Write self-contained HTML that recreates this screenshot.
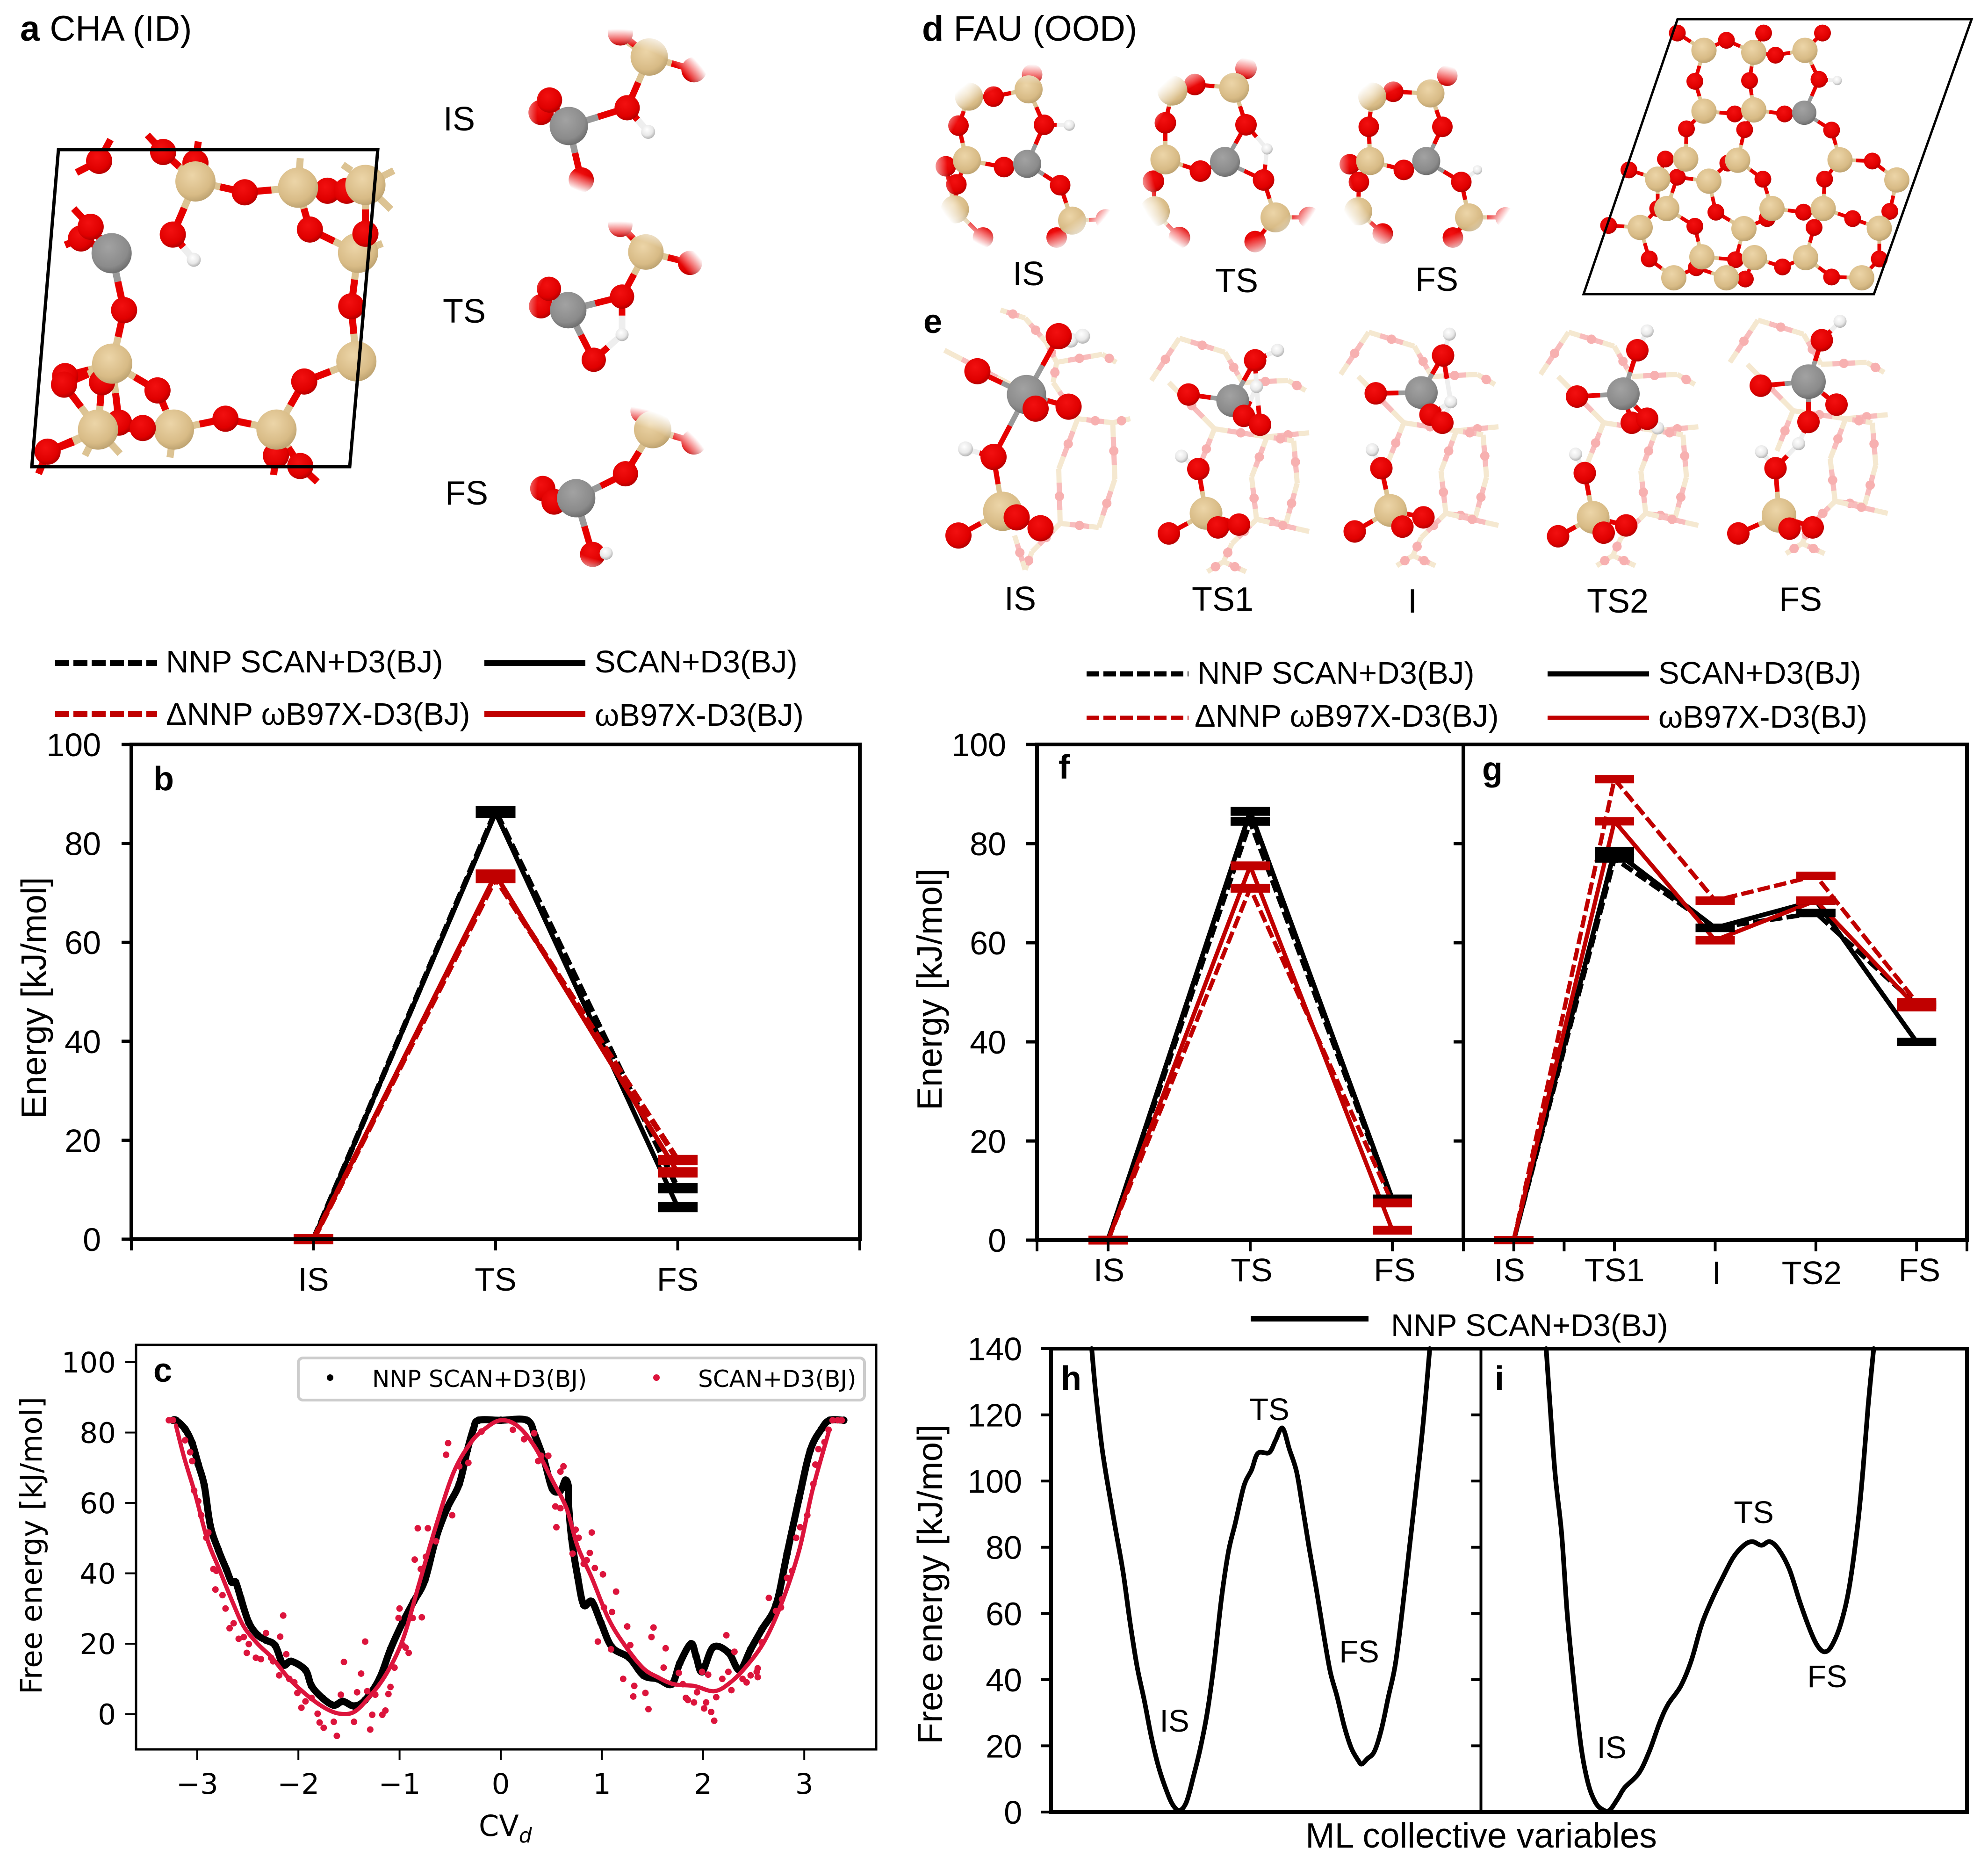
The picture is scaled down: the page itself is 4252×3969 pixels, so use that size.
<!DOCTYPE html>
<html lang="en">
<head>
<meta charset="utf-8">
<title>Zeolite reaction energy profiles</title>
<style>
html,body{margin:0;padding:0;background:#fff;}
#figure{display:block;width:4252px;height:3969px;background:#fff;}
text{font-family:"Liberation Sans",sans-serif;fill:#000;}
.dv{font-family:"DejaVu Sans",sans-serif;}
</style>
</head>
<body>
<svg id="figure" xmlns="http://www.w3.org/2000/svg" width="4252" height="3969" viewBox="0 0 4252 3969">
<defs>
<radialGradient id="g-Si" cx="42%" cy="35%" r="70%"><stop offset="0" stop-color="#ecd5a8"/><stop offset=".7" stop-color="#d8bb86"/><stop offset="1" stop-color="#b79d6c"/></radialGradient>
<radialGradient id="g-O" cx="42%" cy="35%" r="70%"><stop offset="0" stop-color="#f21010"/><stop offset=".7" stop-color="#e00000"/><stop offset="1" stop-color="#a80000"/></radialGradient>
<radialGradient id="g-Al" cx="42%" cy="35%" r="70%"><stop offset="0" stop-color="#a2a2a2"/><stop offset=".7" stop-color="#8b8b8b"/><stop offset="1" stop-color="#666"/></radialGradient>
<radialGradient id="g-H" cx="42%" cy="35%" r="70%"><stop offset="0" stop-color="#fff"/><stop offset=".6" stop-color="#e8e8e8"/><stop offset="1" stop-color="#a8a8a8"/></radialGradient>
<radialGradient id="g-fade"><stop offset="0" stop-color="#fff"/><stop offset=".8" stop-color="#fff"/><stop offset="1" stop-color="#000"/></radialGradient>
</defs>
</svg>
<script>
/* ---------- chart data ---------- */
const bCategories=['IS','TS','FS'];
const bNnpScan=[0,86.5,10.3];
const bScan=[0,86.2,6.5];
const bDeltaNnp=[0,73,16];
const bWb97x=[0,73.7,13.5];

const fCategories=['IS','TS','FS'];
const fNnpScan=[0,84.5,8];
const fScan=[0,86.5,8.3];
const fDeltaNnp=[0,71,7.5];
const fWb97x=[0,75.5,2];

const gCategories=['IS','TS1','I','TS2','FS'];
const gNnpScan=[0,77,63,66,47.5];
const gScan=[0,78.5,63,68.5,40];
const gDeltaNnp=[0,93,68.5,73.5,48];
const gWb97x=[0,84.5,60.5,68.5,47];

const energyTicks=[0,20,40,60,80,100];
const cvTicks=[-3,-2,-1,0,1,2,3];
const cYTicks=[0,20,40,60,80,100];
const hiTicks=[0,20,40,60,80,100,120,140];

const nnpPoints=[[-3.24,83.5],[-3.21,83.5],[-3.12,81],[-3.05,77],[-2.99,71],[-2.93,65],[-2.87,53.5],[-2.79,46.6],[-2.71,41],[-2.66,37.5],[-2.62,37.5],[-2.57,33],[-2.49,26],[-2.40,22.4],[-2.32,21],[-2.23,19.5],[-2.15,14],[-2.07,15],[-1.93,12.5],[-1.87,8],[-1.76,4.5],[-1.65,2.5],[-1.56,3.6],[-1.45,2.3],[-1.34,4],[-1.2,10],[-1.09,18.4],[-0.97,26],[-0.86,32],[-0.75,38],[-0.64,50],[-0.53,58.5],[-0.41,65.4],[-0.33,75],[-0.27,81],[-0.22,83.5],[0,83.5],[0.26,83.5],[0.34,79],[0.43,72],[0.51,64],[0.59,63.5],[0.64,66.5],[0.67,64.5],[0.67,60],[0.7,50],[0.76,39],[0.82,31],[0.9,32],[0.99,26],[1.1,19],[1.27,16],[1.41,11],[1.55,10],[1.69,8.5],[1.77,14.5],[1.88,20],[1.93,16.5],[1.99,12],[2.1,19],[2.25,17.5],[2.36,12.5],[2.47,18.4],[2.58,24],[2.72,31],[2.83,45.6],[2.95,61.5],[3.06,75],[3.17,81],[3.25,83.5],[3.39,83.5]];

const scanFit=[[-3.21,82],[-3.13,73],[-3.02,62.5],[-2.9,49.6],[-2.79,41.7],[-2.65,31.8],[-2.54,24.9],[-2.4,19.9],[-2.26,16],[-2.09,10],[-1.9,5],[-1.73,1.6],[-1.59,0.1],[-1.45,0.6],[-1.31,4.5],[-1.14,11],[-0.97,21],[-0.81,36.7],[-0.64,53.5],[-0.47,68.4],[-0.3,77],[-0.16,81],[0,83.5],[0.17,81.8],[0.34,75.8],[0.51,66.4],[0.65,58.5],[0.76,47.6],[0.9,38.7],[1.07,26.8],[1.24,19],[1.41,13],[1.55,10.5],[1.71,8.5],[1.91,8],[2.11,6.5],[2.27,9],[2.44,14],[2.61,20.9],[2.78,31.8],[2.95,46.6],[3.08,63.5],[3.24,80]];

const scanPoints=[[-3.28,83.5],[-3.24,83.5],[-3.12,77.8],[-3.07,74.4],[-3.05,71.9],[-3.03,63.5],[-2.99,60.5],[-2.96,56.5],[-2.91,50.1],[-2.89,51.6],[-2.84,41.2],[-2.81,40.7],[-2.82,35.4],[-2.75,33.8],[-2.72,30],[-2.68,24.4],[-2.64,25.8],[-2.59,21.4],[-2.54,21.9],[-2.51,17.4],[-2.49,19.9],[-2.42,16],[-2.37,15.6],[-2.32,23],[-2.27,16],[-2.18,22],[-2.15,28],[-2.25,15],[-2.19,11],[-2.12,17],[-2.09,10],[-2.04,9],[-2.01,6],[-1.97,1.8],[-1.93,3.6],[-1.87,4.6],[-1.81,0.1],[-1.79,-2.4],[-1.75,-3.9],[-1.65,-2.2],[-1.62,-6.2],[-1.58,5.5],[-1.55,14.8],[-1.45,-2.2],[-1.42,6.2],[-1.38,11.5],[-1.34,20.6],[-1.32,6.5],[-1.29,-4.4],[-1.27,-0.2],[-1.24,5.5],[-1.17,-0.2],[-1.14,1],[-1.11,5.7],[-1.09,7.7],[-1.05,13.2],[-1.01,27.3],[-1,30],[-0.97,19.6],[-0.94,18.9],[-0.91,17.4],[-0.87,27.3],[-0.78,27.5],[-0.85,43.9],[-0.82,52.8],[-0.72,52.8],[-0.79,41.2],[-0.74,44.7],[-0.64,49.1],[-0.54,73.7],[-0.52,77],[-0.48,56.5],[-0.41,70.4],[-0.32,71.4],[-0.19,80.3],[0.12,80.8],[0.23,78.1],[0.33,79.8],[0.4,73.4],[0.47,73.4],[0.37,71.9],[0.62,70.4],[0.59,68.9],[0.54,59],[0.59,58.5],[0.55,53.1],[0.74,52.4],[0.77,50.1],[0.71,45.6],[0.82,42.7],[0.85,43.7],[0.9,51.6],[0.88,45.8],[0.93,41.5],[1.01,39.7],[1.14,34.8],[1.02,30.3],[1.1,29],[0.96,20.6],[1.25,24.9],[1.09,18.4],[1.28,19.6],[1.21,10],[1.32,8],[1.31,5],[1.43,6],[1.46,1.4],[1.49,21.9],[1.51,24.6],[1.63,18.7],[1.61,13.2],[1.76,11.7],[1.8,8.5],[1.83,4.6],[1.85,4],[1.91,3.3],[1.94,6.2],[1.99,12],[2.03,3.3],[2.01,1.6],[2.08,0.6],[2.11,-1.9],[2.05,11.2],[2.13,4.8],[2.19,10],[2.23,22.4],[2.25,12],[2.28,6.8],[2.31,17.7],[2.39,10],[2.43,9],[2.47,11],[2.53,12],[2.54,13],[2.54,10.5],[2.58,20.4],[2.65,33],[2.72,29.3],[2.78,32.6],[2.77,30.3],[2.83,38.7],[2.88,40.7],[2.92,50.1],[2.96,53.1],[3.03,56.5],[3.09,65.4],[3.11,70.9],[3.14,75.3],[3.2,77.3],[3.24,80.8],[3.28,83.5],[3.33,83.5],[3.37,83.5]];

const hCv=[0.58,0.64,0.73,0.83,0.93,1.03,1.13,1.23,1.33,1.43,1.53,1.63,1.73,1.83,1.93,2.03,2.13,2.23,2.33,2.43,2.53,2.63,2.75,2.86,2.95,3.11,3.2,3.3,3.4,3.5,3.58,3.68,3.78,3.88,3.98,4.08,4.18,4.28,4.38,4.43,4.51,4.61,4.71,4.81,4.91,5.01,5.11,5.21,5.31,5.4];
const hFree=[140,126,109.5,96.3,84.2,72.1,56.8,43.6,33.7,22.7,13.9,7.4,2.4,0.5,3,10.7,19.4,30.4,45.8,64.5,78.7,87.5,98.5,103.4,108.4,108.6,112.2,116,109.5,102.9,93,79.8,67.7,54.6,42.5,34.8,26,19.4,15.6,14.5,16.1,18.3,24.9,34.8,44.7,61.2,79.8,98.5,118.3,140];
const iCv=[0.93,1.05,1.15,1.23,1.33,1.43,1.53,1.63,1.73,1.83,1.95,2.05,2.25,2.4,2.55,2.67,2.85,3,3.15,3.3,3.45,3.6,3.75,3.87,4,4.12,4.25,4.4,4.55,4.7,4.8,4.9,5,5.13,5.25,5.37,5.45,5.52,5.6];
const iFree=[140,104,84.2,60,38.1,19.4,8.5,3,0.8,0.5,4,7.4,11.7,18.3,27.1,32.6,38.1,45.8,56.8,64.5,71,77,80.6,81.7,80.6,81.7,79.2,73.2,63.3,54.6,50.2,48.4,50.2,56.8,67.7,86.4,104,122.6,140];

/* ---------- helpers ---------- */
const NS='http://www.w3.org/2000/svg';
const root=document.getElementById('figure');
function mk(tag,attrs,name,parent,active){
  const el=document.createElementNS(NS,tag);
  for(const k in attrs){el.setAttribute(k,attrs[k]);}
  
  
  (parent||root).appendChild(el);
  return el;
}
function group(name,parent){return mk('g',{},name,parent);}
function txt(s,x,y,size,name,opt,parent){
  opt=opt||{};
  const a={x:x,y:y,'font-size':size};
  if(opt.anchor)a['text-anchor']=opt.anchor;
  if(opt.bold)a['font-weight']='bold';
  if(opt.dv)a['class']='dv';
  if(opt.rotate)a['transform']='rotate(-90 '+x+' '+y+')';
  const el=mk('text',a,name,parent);
  el.textContent=s;
  return el;
}
function linear(d0,d1,r0,r1){return v=>r0+(v-d0)*(r1-r0)/(d1-d0);}
function line(x1,y1,x2,y2,stroke,w,name,parent,dash){
  const a={x1:x1,y1:y1,x2:x2,y2:y2,stroke:stroke,'stroke-width':w};
  if(dash)a['stroke-dasharray']=dash;
  return mk('line',a,name,parent);
}
function poly(points,stroke,w,name,parent,dash){
  const a={points:points.map(p=>p[0].toFixed(1)+','+p[1].toFixed(1)).join(' '),fill:'none',stroke:stroke,'stroke-width':w,'stroke-linejoin':'round'};
  if(dash)a['stroke-dasharray']=dash;
  return mk('polyline',a,name,parent);
}
/* smooth curve through the given points (Catmull-Rom to cubic Bezier) */
function smooth(points,stroke,w,name,parent){
  let d='M'+points[0][0].toFixed(1)+' '+points[0][1].toFixed(1);
  for(let i=0;i<points.length-1;i++){
    const p0=points[Math.max(i-1,0)],p1=points[i],p2=points[i+1],p3=points[Math.min(i+2,points.length-1)];
    const c1x=p1[0]+(p2[0]-p0[0])/6,c1y=p1[1]+(p2[1]-p0[1])/6;
    const c2x=p2[0]-(p3[0]-p1[0])/6,c2y=p2[1]-(p3[1]-p1[1])/6;
    d+=' C'+c1x.toFixed(1)+' '+c1y.toFixed(1)+' '+c2x.toFixed(1)+' '+c2y.toFixed(1)+' '+p2[0].toFixed(1)+' '+p2[1].toFixed(1);
  }
  return mk('path',{d:d,fill:'none',stroke:stroke,'stroke-width':w,'stroke-linejoin':'round','stroke-linecap':'round'},name,parent);
}
function rectFrame(x0,y0,x1,y1,w,name,parent,stroke){
  return mk('rect',{x:x0,y:y0,width:x1-x0,height:y1-y0,fill:'none',stroke:stroke||'#000','stroke-width':w},name,parent);
}

/* ---------- energy panels ---------- */
function energyPanel(id,cfg){
  const g=group('panel-'+id);
  const x=linear(cfg.xd[0],cfg.xd[1],cfg.x0,cfg.x1);
  const y=linear(0,100,cfg.y0,cfg.y1);
  cfg.series.forEach(s=>{
    const pts=s.values.map((v,i)=>[x(i+1),y(v)]);
    poly(pts,s.color,s.w,id+'-line-'+s.key,g,s.dash);
  });
  cfg.series.forEach(s=>{
    s.values.forEach((v,i)=>{
      mk('rect',{x:x(i+1)-cfg.mw/2,y:y(v)-cfg.mh/2,width:cfg.mw,height:cfg.mh,fill:s.color},id+'-level-'+s.key+'-'+cfg.cats[i],g);
    });
  });
  line(cfg.x0,cfg.y1,cfg.x1,cfg.y1,'#000',8,id+'-top-spine',g);
  line(cfg.x0,cfg.y0,cfg.x1,cfg.y0,'#000',8,id+'-x-axis',g);
  line(cfg.x0,cfg.y0+4,cfg.x0,cfg.y1-4,'#000',8,id+'-left-spine',g);
  line(cfg.x1,cfg.y0+4,cfg.x1,cfg.y1-4,'#000',8,id+'-right-spine',g);
  energyTicks.forEach(v=>{
    line(cfg.x0-cfg.tl,y(v),cfg.x0,y(v),'#000',7,id+'-y-tick-'+v,g);
    if(cfg.ylabels)txt(String(v),cfg.lx,y(v)+25,70,id+'-y-tick-label-'+v,{anchor:'end'},g);
  });
  cfg.xticks.forEach((v,i)=>{
    line(x(v),cfg.y0,x(v),cfg.y0+24,'#000',6,id+'-x-tick-'+i,g);
  });
  cfg.cats.forEach((c,i)=>{
    txt(c,x(i+1)+(cfg.dx?cfg.dx[i]:0),cfg.ly+(cfg.dy?cfg.dy[i]:0),70,id+'-x-label-'+c,{anchor:'middle'},g);
  });
  txt(id,cfg.letter[0],cfg.letter[1],72,id+'-panel-letter',{bold:true},g);
}
const colB='#000', colR='#c00000';
energyPanel('b',{x0:281,x1:1839,y0:2650,y1:1592,xd:[0,4],mw:85,mh:22,tl:21,ylabels:true,lx:216,ly:2760,letter:[328,1690],
  cats:bCategories,xticks:[0,1,2,3,4],
  series:[
   {key:'nnp-scan',values:bNnpScan,color:colB,w:12,dash:'28 9'},
   {key:'scan',values:bScan,color:colB,w:10},
   {key:'delta-nnp',values:bDeltaNnp,color:colR,w:12,dash:'28 9'},
   {key:'wb97x',values:bWb97x,color:colR,w:10}]});
energyPanel('f',{x0:2218,x1:3130,y0:2652,y1:1592,xd:[0.5,3.5],mw:84,mh:19,tl:23,ylabels:true,lx:2152,ly:2740,letter:[2264,1665],
  cats:fCategories,xticks:[0.5,1,2,3,3.5],dx:[2,3,5],
  series:[
   {key:'nnp-scan',values:fNnpScan,color:colB,w:11,dash:'27 9'},
   {key:'scan',values:fScan,color:colB,w:10},
   {key:'delta-nnp',values:fDeltaNnp,color:colR,w:9,dash:'27 9'},
   {key:'wb97x',values:fWb97x,color:colR,w:9}]});
energyPanel('g',{x0:3130,x1:4207,y0:2652,y1:1592,xd:[0.5,5.5],mw:84,mh:18,tl:21,ylabels:false,ly:2740,letter:[3170,1669],
  cats:gCategories,xticks:[0.5,1,1.5,2,3,4,5,5.5],dx:[-9,0,3,-9,6],dy:[0,0,6,6,0],
  series:[
   {key:'nnp-scan',values:gNnpScan,color:colB,w:10,dash:'27 9'},
   {key:'scan',values:gScan,color:colB,w:10},
   {key:'delta-nnp',values:gDeltaNnp,color:colR,w:9,dash:'27 9'},
   {key:'wb97x',values:gWb97x,color:colR,w:9}]});

txt('Energy [kJ/mol]',98,2134,75,'b-y-axis-title',{anchor:'middle',rotate:true});
txt('Energy [kJ/mol]',2014,2116,75,'f-y-axis-title',{anchor:'middle',rotate:true});

/* legends for b and f/g */
function legendRow(x1,x2,y,color,w,dash,tx,ty,label,name,parent){
  line(x1,y,x2,y,color,w,name+'-swatch',parent,dash);
  txt(label,tx,ty,67,name+'-label',{},parent);
}
const legB=group('legend-b');
legendRow(118,336,1418,colB,12,'30 9',355,1438,'NNP SCAN+D3(BJ)','legend-b-nnp-scan',legB);
legendRow(1036,1252,1418,colB,12,null,1272,1438,'SCAN+D3(BJ)','legend-b-scan',legB);
legendRow(118,336,1527,colR,12,'30 9',355,1550,'ΔNNP ωB97X-D3(BJ)','legend-b-delta-nnp',legB);
legendRow(1036,1252,1527,colR,12,null,1272,1552,'ωB97X-D3(BJ)','legend-b-wb97x',legB);
const legF=group('legend-fg');
legendRow(2324,2542,1441,colB,11,'27 9',2561,1462,'NNP SCAN+D3(BJ)','legend-fg-nnp-scan',legF);
legendRow(3310,3527,1441,colB,11,null,3547,1462,'SCAN+D3(BJ)','legend-fg-scan',legF);
legendRow(2324,2542,1535,colR,9,'27 9',2555,1554,'ΔNNP ωB97X-D3(BJ)','legend-fg-delta-nnp',legF);
legendRow(3310,3527,1535,colR,9,null,3547,1556,'ωB97X-D3(BJ)','legend-fg-wb97x',legF);

/* ---------- panel c ---------- */
(function(){
  const g=group('panel-c');
  const x=linear(0,1,1071,1287.4);
  const y=linear(0,20,3665.5,3515);
  const red='#dc143c';
  smooth(nnpPoints.map(p=>[x(p[0]),y(p[1])]),'#000',15,'c-nnp-dense-points',g);
  nnpPoints.forEach(function(p,i){
    mk('circle',{cx:x(p[0]),cy:y(p[1]),r:8,fill:'#000'},'c-nnp-point-'+i,g);
  });
  scanPoints.forEach(function(p,i){
    mk('circle',{cx:x(p[0]),cy:y(p[1]),r:7,fill:red},'c-scan-point-'+i,g);
  });
  smooth(scanFit.map(p=>[x(p[0]),y(p[1])]),red,9,'c-scan-fit-line',g);
  rectFrame(291,2876,1874,3741,5,'c-frame',g);
  cvTicks.forEach(function(v){
    line(x(v),3741,x(v),3764,'#000',4,'c-x-tick-'+v,g);
    txt(String(v).replace('-','\u2212'),x(v),3836,61,'c-x-tick-label-'+v,{anchor:'middle',dv:true},g);
  });
  cYTicks.forEach(function(v){
    line(268,y(v),291,y(v),'#000',4,'c-y-tick-'+v,g);
    txt(String(v),248,y(v)+22,61,'c-y-tick-label-'+v,{anchor:'end',dv:true},g);
  });
  txt('Free energy [kJ/mol]',89,3305,63,'c-y-axis-title',{anchor:'middle',rotate:true,dv:true},g);
  const cv=txt('CV',1024,3926,62,'c-x-axis-title',{dv:true},g);
  const sub=mk('tspan',{dy:14,'font-size':44,'font-style':'italic'},'c-x-axis-subscript',cv);
  sub.textContent='d';
  txt('c',328,2955,72,'c-panel-letter',{bold:true},g);
  const leg=group('legend-c',g);
  mk('rect',{x:638,y:2904,width:1211,height:90,rx:10,fill:'#fff',stroke:'#ccc','stroke-width':6},'legend-c-box',leg);
  mk('circle',{cx:706,cy:2946,r:7,fill:'#000'},'legend-c-nnp-marker',leg);
  txt('NNP SCAN+D3(BJ)',796,2966,50,'legend-c-nnp-label',{dv:true},leg);
  mk('circle',{cx:1404,cy:2946,r:7,fill:red},'legend-c-scan-marker',leg);
  txt('SCAN+D3(BJ)',1493,2966,50,'legend-c-scan-label',{dv:true},leg);
})();

/* ---------- panels h, i ---------- */
function freePanel(id,cfg,cv,free){
  const g=group('panel-'+id);
  const x=linear(0,cfg.dom,cfg.x0,cfg.x1);
  const y=linear(0,140,3875,2884);
  smooth(cv.map((c,i)=>[x(c),y(free[i])]),'#000',10,id+'-free-energy-curve',g);
  hiTicks.forEach(v=>{
    line(cfg.x0-21,y(v),cfg.x0,y(v),'#000',6,id+'-y-tick-'+v,g);
    if(cfg.labels)txt(String(v),2186,y(v)+25,70,id+'-y-tick-label-'+v,{anchor:'end'},g);
  });
  txt(id,cfg.lx,2972,72,id+'-panel-letter',{bold:true},g);
  cfg.notes.forEach(n=>txt(n[0],n[1],n[2],67,id+'-label-'+n[0],{anchor:'middle'},g));
}
freePanel('h',{x0:2248,x1:3167.5,dom:6.13,labels:true,lx:2269,notes:[['IS',2512,3703],['TS',2715,3037],['FS',2907,3555]]},hCv,hFree);
freePanel('i',{x0:3167.5,x1:4207,dom:6.93,labels:false,lx:3197,notes:[['IS',3447,3760],['TS',3751,3257],['FS',3908,3608]]},iCv,iFree);
mk('rect',{x:2248,y:2884,width:1959,height:4,fill:'none'},'hi-plot-area');
rectFrame(2248,2884,4207,3875,8,'hi-frame');
line(3167.5,2884,3167.5,3875,'#000',6,'hi-divider');
txt('Free energy [kJ/mol]',2015,3388,75,'hi-y-axis-title',{anchor:'middle',rotate:true});
txt('ML collective variables',3168,3951,75,'hi-x-axis-title',{anchor:'middle'});
line(2675,2820,2927,2820,'#000',12,'legend-hi-swatch');
txt('NNP SCAN+D3(BJ)',2975,2857,67,'legend-hi-label');

/* ---------- structures (illustrations, not chart data) ---------- */
const BOND={Si:'#dcc393',Al:'#999',O:'#e60000',H:'#eee'};
function parseAtoms(s){
  const out=[];
  s.split(';').forEach(part=>{
    const t=part.split(':');
    t[1].trim().split(/\s+/).forEach(c=>{
      const p=c.split(',');
      out.push({t:t[0].trim(),x:+p[0],y:+p[1]});
    });
  });
  return out;
}
const defs=root.querySelector('defs');
function molecule(m){
  const g=group(m.name);
  if(m.fade){
    const id='mask-'+m.name;
    const mask=mk('mask',{id:id,maskUnits:'userSpaceOnUse',x:0,y:0,width:4252,height:3969},m.name+'-fade-mask',defs);
    mk('ellipse',{cx:m.fade[0],cy:m.fade[1],rx:m.fade[2],ry:m.fade[3],fill:'url(#g-fade)'},m.name+'-fade-ellipse',mask);
    g.setAttribute('mask','url(#'+id+')');
  }
  const sx=m.sx,sy=m.sy,ox=m.ox,oy=m.oy;
  const atoms=parseAtoms(m.atoms).map(a=>({t:a.t,x:ox+a.x*sx,y:oy+a.y*sy}));
  (m.stubs||[]).forEach(function(b){
    line(ox+b[0]*sx,oy+b[1]*sy,ox+b[2]*sx,oy+b[3]*sy,b[4],m.bw,m.name+'-stub',g);
  });
  atoms.forEach(function(a,i){
    atoms.forEach(function(b,j){
      if(j<=i)return;
      const ok=(a.t==='O'&&b.t!=='O')||(b.t==='O'&&a.t!=='O');
      const d=Math.hypot(a.x-b.x,a.y-b.y);
      const limit=(a.t==='H'||b.t==='H')?m.th*0.75:m.th;
      if(!ok||d>limit)return;
      const mx=(a.x+b.x)/2,my=(a.y+b.y)/2;
      line(a.x,a.y,mx,my,BOND[a.t],m.bw,m.name+'-bond',g);
      line(mx,my,b.x,b.y,BOND[b.t],m.bw,m.name+'-bond',g);
    });
  });
  atoms.forEach(function(a){
    mk('circle',{cx:a.x,cy:a.y,r:m.r[a.t],fill:'url(#g-'+a.t+')'},m.name+'-atom-'+a.t.toLowerCase(),g);
  });
}
const A={ox:0,oy:0,sx:1900/1568,sy:1300/1568};
const D={ox:1900,oy:0,sx:1.5,sy:1350/1568};
function M(base,o){return Object.assign({},base,o);}
const RED='#e60000',TAN='#dcc393';
molecule(M(A,{name:'cha-unit-cell-structure',th:128,bw:15,r:{Si:43,O:28,Al:43,H:15},
  stubs:[[175,415,195,360,RED],[175,415,135,445,RED],[288,392,260,348,RED],[345,420,350,365,RED],[645,477,695,440,TAN],[645,477,690,540,TAN],[526,484,530,408,TAN],[620,440,605,425,TAN],[307,1108,300,1180,TAN],[173,1108,150,1175,TAN],[173,1108,212,1170,TAN],[84,1165,68,1222,RED],[84,1165,130,1140,RED],[130,1140,173,1108,TAN],[487,1175,483,1225,RED],[530,1202,560,1243,RED],[160,585,130,538,RED],[143,615,115,632,RED],[632,652,675,628,TAN],[488,1108,488,1150,TAN],[629,932,655,960,TAN]],
  atoms:'O:175,415 288,392 345,420 578,492 612,492 143,615 160,585 115,970 113,992 210,1090 180,986 487,1175 530,1202;Si:345,468 526,484 645,477 632,652 629,932 198,938 173,1108 307,1108 488,1108;O:432,496 547,592 645,603 305,605 219,800 620,790 537,984 278,1007 252,1104 398,1080 84,1165;Al:197,653;H:342,670'}));
molecule(M(A,{name:'cha-is-structure',th:135,bw:14,r:{Si:40,O:27,Al:41,H:15},fade:[1321,242,215,180],
  stubs:[[1146,147,1095,95,TAN]],
  atoms:'O:1095,85;Si:1146,147;O:955,290;Al:1004,325;O:1225,180 1107,278 970,258 1026,464;H:1144,340'}));
molecule(M(A,{name:'cha-ts-structure',th:135,bw:14,r:{Si:38,O:26,Al:39,H:14},fade:[1321,655,215,182],
  stubs:[[1140,650,1100,590,TAN]],
  atoms:'O:1095,580;Si:1140,650;O:955,790;Al:1003,800;O:1098,765 1218,678 969,745 1048,928;H:1098,863'}));
molecule(M(A,{name:'cha-fs-structure',th:150,bw:14,r:{Si:40,O:27,Al:41,H:14},fade:[1321,1053,215,185],
  stubs:[[1152,1108,1135,1060,TAN]],
  atoms:'O:1135,1060;Si:1152,1108;O:958,1260 978,1295;Al:1017,1285;O:1104,1222 1225,1140 1046,1430;H:1070,1427'}));
molecule(M(D,{name:'fau-d-is-structure',th:95,bw:9,r:{Si:30,O:22,Al:30,H:12},fade:[2195,342,212,205],
  atoms:'O:100,312 150,240 205,185 82,413 97,458 240,590 135,590;Si:115,240 95,520 200,222 112,398 262,548;O:222,310 165,415 245,460 310,545;Al:198,407;H:258,311'}));
molecule(M(D,{name:'fau-d-ts-structure',th:95,bw:9,r:{Si:32,O:23,Al:32,H:12},fade:[2631,340,212,218],
  atoms:'O:395,305 437,210 510,170 378,450 523,600 415,590;Si:405,225 380,525 493,218 395,396 552,540;O:510,310 445,425 535,447 600,540;Al:480,402;H:540,370'}));
molecule(M(D,{name:'fau-d-fs-structure',th:95,bw:9,r:{Si:30,O:22,Al:30,H:10},fade:[3051,344,207,208],
  atoms:'O:685,315 720,228 797,188 658,408 671,452 805,590 705,580;Si:690,240 670,525 773,232 687,400 828,540;O:790,315 735,422 817,452 880,540;Al:767,400;H:840,422'}));
molecule(M(D,{name:'fau-unit-cell-structure',th:85,bw:8,r:{Si:27,O:18,Al:26,H:10},
  atoms:'O:1125,82 1195,100 1248,82 1332,82 1265,137 1150,202 1228,200 1327,197 1207,283 1278,283 1138,320 1221,322 1345,323 1108,395 1197,405 1403,400 1056,422 1125,440 1247,445 1335,445 1180,527 1305,527 1097,518 1428,525 1375,543 1027,560 1150,562 1253,543 1320,565 1085,643 1208,645 1275,663 1413,643 1152,665 1345,688 1222,693;Si:1163,125 1234,130 1307,125 1163,276 1234,273 1137,395 1211,398 1357,397 1097,445 1170,450 1438,447 1110,518 1260,518 1333,518 1072,565 1220,568 1413,567 1160,638 1235,640 1308,640 1120,690 1195,690 1388,690;Al:1306,280;H:1353,200'}));

/* faint framework behind the panel e structures */
const netBase=[[[375,945],[415,840],[480,875],[505,950]],[[505,950],[570,945],[595,970]],[[400,950],[465,1065]],[[465,1065],[540,1085],[600,1075]],[[465,1065],[442,1165]],[[540,1085],[518,1185],[525,1290]],[[540,1085],[578,1095],[583,1200],[567,1300],[525,1290]],[[525,1290],[600,1320]],[[478,1395],[490,1350],[525,1290]],[[478,1395],[455,1420]],[[478,1395],[510,1420]]];
const netIS=[[[160,770],[195,790],[225,850],[240,900]],[[240,900],[305,880],[325,900]],[[80,870],[180,960]],[[240,900],[235,950],[270,1040]],[[270,1040],[320,1050],[345,1040]],[[270,1040],[243,1165],[245,1300],[300,1310],[323,1190],[320,1050]],[[245,1300],[205,1370],[195,1415]],[[180,1330],[195,1415]]];
function network(poly_,dx,dy,name){
  const g=group(name);
  const X=v=>1900+(v+dx)*D.sx, Y=v=>(v+dy)*D.sy;
  poly_.forEach(function(pl){
    for(let i=0;i+1<pl.length;i++){
      const a=pl[i],b=pl[i+1];
      const ax=X(a[0]),ay=Y(a[1]),bx=X(b[0]),by=Y(b[1]);
      line(ax,ay,bx,by,'#f5e8d0',11,name+'-bond',g);
      line(ax+(bx-ax)*.25,ay+(by-ay)*.25,ax+(bx-ax)*.75,ay+(by-ay)*.75,'#f8bcbc',11,name+'-oxygen-bond',g);
      mk('circle',{cx:(ax+bx)/2,cy:(ay+by)/2,r:10,fill:'#f7b0b0'},name+'-oxygen',g);
    }
  });
}
network(netIS,0,0,'fau-e-is-framework');
network(netBase,0,0,'fau-e-ts1-framework');
network(netBase,270,-15,'fau-e-i-framework');
network(netBase,555,-15,'fau-e-ts2-framework');
network(netBase,825,-45,'fau-e-fs-framework');
molecule(M(D,{name:'fau-e-is-structure',th:155,bw:11,r:{Si:42,O:28,Al:42,H:16},
  atoms:'Al:197,980;Si:163,1270;H:110,1115 260,845 277,835;O:127,922 243,835 210,1015 257,1010 150,1135 183,1285 217,1312 100,1330'}));
molecule(M(D,{name:'fau-e-ts1-structure',th:135,bw:10,r:{Si:35,O:24,Al:35,H:14},
  atoms:'Al:491,995;Si:453,1275;H:555,870 525,960 418,1133;O:428,980 523,895 507,1033 530,1055 442,1165 470,1310 500,1303 400,1325'}));
molecule(M(D,{name:'fau-e-i-structure',th:135,bw:10,r:{Si:35,O:24,Al:35,H:14},
  atoms:'Al:760,975;Si:716,1268;H:800,830 802,998 690,1117;O:695,977 791,883 773,1030 790,1050 703,1163 733,1308 763,1285 665,1320'}));
molecule(M(D,{name:'fau-e-ts2-structure',th:135,bw:10,r:{Si:35,O:24,Al:35,H:14},
  atoms:'Al:1048,978;Si:1005,1285;H:1082,822 1097,1063 980,1128;O:982,985 1068,870 1060,1050 1082,1040 993,1175 1020,1323 1052,1305 955,1332'}));
molecule(M(D,{name:'fau-e-fs-structure',th:135,bw:10,r:{Si:37,O:24,Al:37,H:14},
  atoms:'Al:1312,948;Si:1270,1280;H:1357,798 1298,1102 1245,1122;O:1244,958 1331,845 1352,1005 1312,1048 1265,1163 1285,1313 1318,1310 1212,1325'}));

mk('polygon',{points:'125,320 808,320 748,998 68,998',fill:'none',stroke:'#000','stroke-width':7},'cha-unit-cell-box');
mk('polygon',{points:'3588,41 4217,41 4008,629 3387,629',fill:'none',stroke:'#000','stroke-width':5},'fau-unit-cell-box');

/* headings */
function heading(letter,rest,x,y,name){
  const el=txt(letter,x,y,76,name,{bold:true});
  const t=mk('tspan',{'font-weight':'normal'},name+'-text',el);
  t.textContent=rest;
}
heading('a',' CHA (ID)',43,87,'heading-a');
heading('d',' FAU (OOD)',1972,87,'heading-d');
txt('e',1975,712,72,'e-panel-letter',{bold:true});

[['IS',982,279],['TS',993,690],['FS',998,1079]].forEach(function(l){
  txt(l[0],l[1],l[2],72,'cha-state-label-'+l[0],{anchor:'middle'});
});
[['IS',2200,610],['TS',2645,625],['FS',3073,622]].forEach(function(l){
  txt(l[0],l[1],l[2],72,'fau-d-state-label-'+l[0],{anchor:'middle'});
});
[['IS',2182,1305],['TS1',2615,1306],['I',3021,1310],['TS2',3460,1310],['FS',3851,1306]].forEach(function(l){
  txt(l[0],l[1],l[2],72,'fau-e-state-label-'+l[0],{anchor:'middle'});
});
</script>
</body>
</html>
